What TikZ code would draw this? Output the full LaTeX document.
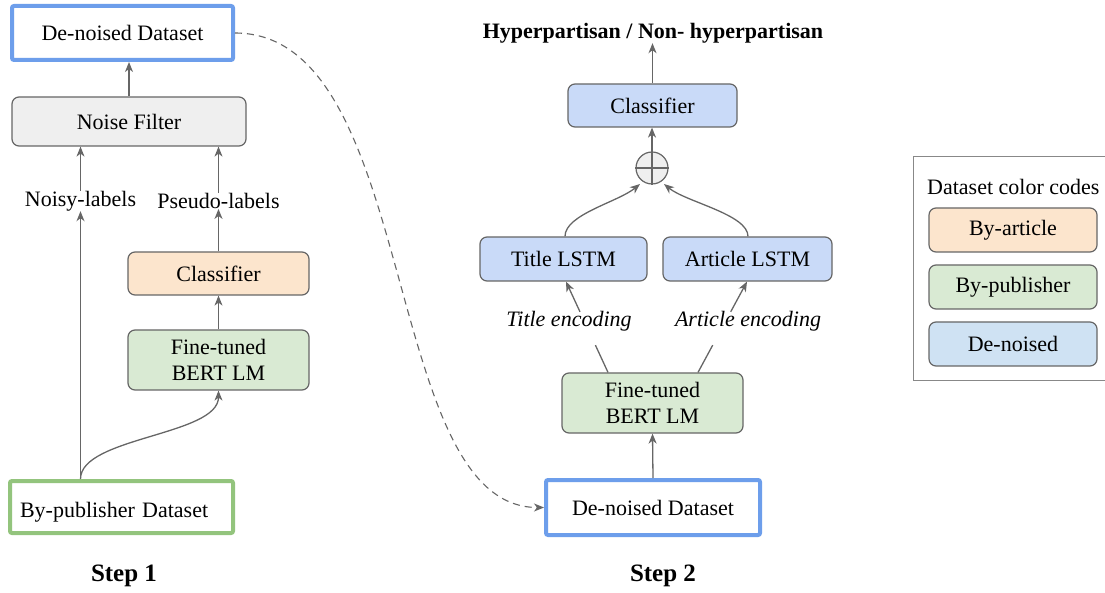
\documentclass[tikz,border=0pt]{standalone}
\usepackage{fontspec}
\setmainfont{Liberation Serif}
\usetikzlibrary{arrows.meta,calc}
\definecolor{strokegray}{HTML}{666666}
\definecolor{dsblue}{HTML}{6D9EEB}
\definecolor{dsgreen}{HTML}{93C47D}
\definecolor{fillgray}{HTML}{EFEFEF}
\definecolor{fillorange}{HTML}{FCE5CD}
\definecolor{fillgreen}{HTML}{D9EAD3}
\definecolor{fillblue}{HTML}{C9DAF8}
\definecolor{filllblue}{HTML}{CFE2F3}
\definecolor{legendgray}{HTML}{888888}
\begin{document}
\begin{tikzpicture}[x=1pt,y=1pt,
  txt/.style={font=\fontsize{22}{26}\selectfont, inner sep=0pt, text=black},
  box/.style={txt, draw=strokegray, line width=1.2pt, rounded corners=7pt, align=center},
  dsbox/.style={txt, draw, line width=4pt, rounded corners=2pt, fill=white},
  arr/.style={draw=strokegray, line width=1.3pt, -{Stealth[length=10pt,width=8pt,inset=3pt]}},
  ln/.style={draw=strokegray, line width=1.3pt},
  steplabel/.style={font=\fontsize{25}{29}\selectfont\bfseries, inner sep=0pt},
]
\useasboundingbox (0,0) rectangle (1105,592);

% ---------- Step 1 ----------
\node[dsbox, draw=dsblue, minimum width=221, minimum height=54] (dn1) at (122.5,559) {De-noised Dataset};
\node[box, fill=fillgray, minimum width=234, minimum height=49] (nf) at (129,470.5) {Noise Filter};
\node[txt] (noisy) at (80.5,391) {Noisy-labels};
\node[txt] (pseudo) at (218.5,391) {Pseudo-labels};
\node[box, fill=fillorange, minimum width=181, minimum height=43] (cls1) at (218.5,318.5) {Classifier};
\node[box, fill=fillgreen, minimum width=181, minimum height=60] (bert1) at (218.5,232) {Fine-tuned\\BERT LM};
\node[dsbox, draw=dsgreen, minimum width=223, minimum height=52, text width=203, align=left, inner xsep=10pt, text height=25pt, text depth=5pt] (bp) at (121.5,85) {By-publisher Dataset};
\node[steplabel] (step1) at (124,16) {Step 1};

\draw[arr] (nf.north -| 129,0) -- (dn1.south -| 129,0);
\draw[arr] (noisy.north) -- (nf.south -| noisy.north);
\draw[arr] (pseudo.north) -- (nf.south -| pseudo.north);
\draw[arr] (cls1.north) -- (pseudo.south);
\draw[arr] (bert1.north) -- (cls1.south);
\coordinate (bpsrc) at (bp.north -| noisy.south);
\draw[arr] (bpsrc) -- (noisy.south);
\draw[arr] (bpsrc) .. controls +(0,42) and +(0,-45) .. (bert1.south);

% ---------- Step 2 ----------
\node[font=\fontsize{22}{26}\selectfont\bfseries, inner sep=0pt] (out) at (653,559) {Hyperpartisan / Non- hyperpartisan};
\node[box, fill=fillblue, minimum width=169, minimum height=43] (cls2) at (652.5,486.5) {Classifier};
\node[circle, draw=strokegray, line width=1.2pt, fill=fillgray, minimum size=32, inner sep=0pt] (plus) at (652,424) {};
\draw[strokegray, line width=1.2pt] (plus.north) -- (plus.south) (plus.west) -- (plus.east);
\node[box, fill=fillblue, minimum width=167, minimum height=44] (tl) at (563.5,333) {Title LSTM};
\node[box, fill=fillblue, minimum width=169, minimum height=44] (al) at (747.5,333) {Article LSTM};
\node[txt, font=\fontsize{22}{26}\selectfont\itshape] (te) at (569,271) {Title encoding};
\node[txt, font=\fontsize{22}{26}\selectfont\itshape] (ae) at (748,271) {Article encoding};
\node[box, fill=fillgreen, minimum width=181, minimum height=60] (bert2) at (652.5,189) {Fine-tuned\\BERT LM};
\node[dsbox, draw=dsblue, minimum width=214, minimum height=55] (dn2) at (653,84.5) {De-noised Dataset};
\node[steplabel] (step2) at (663,16) {Step 2};

\draw[arr] (cls2.north) -- (out.south -| cls2.north);
\draw[arr] (plus.north) -- (cls2.south -| plus.north);
\draw[arr] ($(tl.north)+(1.5,0)$) .. controls +(0,22) and +(-22,-18) .. ($(plus.center)+(-12,-16)$);
\draw[arr] ($(al.north)+(0.5,0)$) .. controls +(0,22) and +(22,-18) .. ($(plus.center)+(12,-16)$);

\coordinate (b2l) at ($(bert2.north)+(-44.5,0)$);
\coordinate (tlb) at ($(tl.south)+(2.5,0)$);
\coordinate (b2r) at ($(bert2.north)+(45.5,0)$);
\coordinate (alb) at ($(al.south)+(-0.5,0)$);
\draw[ln] (b2l) -- ($(b2l)!0.3!(tlb)$);
\draw[arr] ($(b2l)!0.667!(tlb)$) -- (tlb);
\draw[ln] (b2r) -- ($(b2r)!0.3!(alb)$);
\draw[arr] ($(b2r)!0.667!(alb)$) -- (alb);

\draw[arr] (dn2.north) -- (bert2.south);

\draw[arr, dash pattern=on 7pt off 5pt, line width=1.1pt] (dn1.east) .. controls (420,559) and (380,84.5) .. (dn2.west);

% ---------- Legend ----------
\node[draw=legendgray, line width=1pt, minimum width=207, minimum height=224, inner sep=0pt] (legend) at (1016.5,323) {};
\node[txt, anchor=west] (legtitle) at (927,405) {Dataset color codes};
\node[box, fill=fillorange, minimum width=168, minimum height=44] (leg1) at (1013,362) {By-article};
\node[box, fill=fillgreen, minimum width=168, minimum height=44] (leg2) at (1013,305) {By-publisher};
\node[box, fill=filllblue, minimum width=168, minimum height=44] (leg3) at (1013,248) {De-noised};
\end{tikzpicture}
\end{document}
